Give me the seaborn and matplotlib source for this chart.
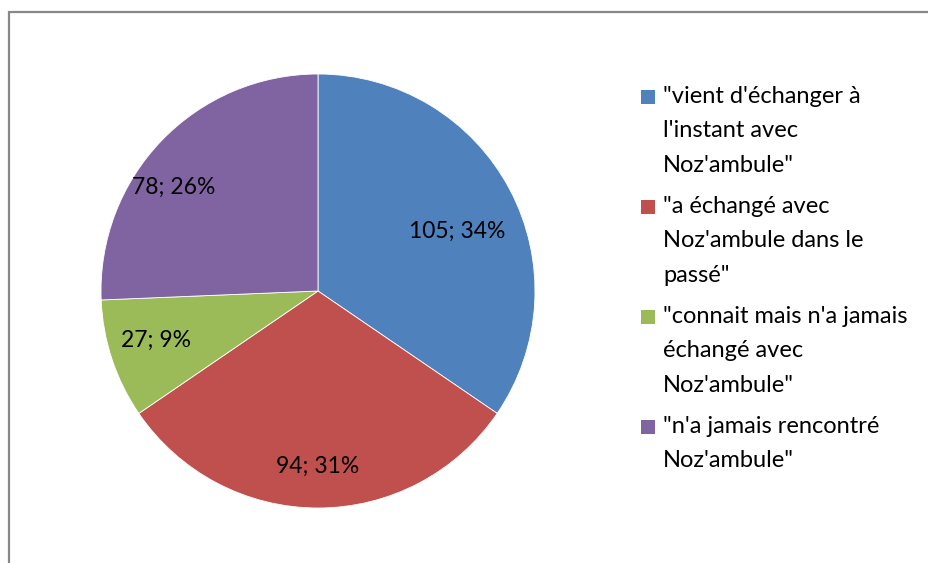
import matplotlib
matplotlib.use("Agg")
import matplotlib.pyplot as plt
import seaborn as sns
import numpy as np
from matplotlib.patches import Rectangle

# Data
categories = [
    '"vient d\'échanger à\nl\'instant avec\nNoz\'ambule"',
    '"a échangé avec\nNoz\'ambule dans le\npassé"',
    '"connait mais n\'a jamais\néchangé avec\nNoz\'ambule"',
    '"n\'a jamais rencontré\nNoz\'ambule"',
]
counts = [105, 94, 27, 78]
percents = [34, 31, 9, 26]

colors = ["#4F81BD", "#C0504D", "#9BBB59", "#8064A2"]
# label placement (fraction of radius, angular nudge in degrees)
label_radius = [0.70, 0.81, 0.78, 0.82]
label_nudge = [-4.5, 0, -1.5, 8]

sns.set_theme(style="white")
plt.rcParams["font.family"] = ["Lato", "DejaVu Sans"]

W, H = 929, 563
fig = plt.figure(figsize=(W / 100, H / 100), dpi=100)
fig.patch.set_facecolor("white")

# outer chart frame (only left and top visible in the crop)
fig.patches.append(Rectangle((9 / W, -0.2), 2.0, 1.2 - 12 / H,
                             transform=fig.transFigure, fill=False,
                             edgecolor="#888888", linewidth=1.6))

ax = fig.add_axes([101 / W, 1 - 508 / H, 434 / W, 434 / H])
wedges, _ = ax.pie(counts, colors=colors, startangle=90, counterclock=False,
                   radius=1.0, wedgeprops=dict(edgecolor="white", linewidth=0.6))
ax.set_xlim(-1, 1)
ax.set_ylim(-1, 1)
ax.set_aspect("equal")
ax.axis("off")

for w, n, p, r, d in zip(wedges, counts, percents, label_radius, label_nudge):
    mid = np.deg2rad((w.theta1 + w.theta2) / 2 + d)
    ax.text(r * np.cos(mid), r * np.sin(mid), f"{n}; {p}%",
            ha="center", va="center", fontsize=16.5, color="black")

# legend drawn by hand so the square sits on the first line of each entry
line_px = 34
y = 97  # centre of the first legend line, in pixels from the top
for label, c in zip(categories, colors):
    nlines = label.count("\n") + 1
    fig.patches.append(Rectangle((641 / W, 1 - (y + 7) / H), 14 / W, 14 / H,
                                 transform=fig.transFigure, facecolor=c,
                                 edgecolor="none"))
    fig.text(663 / W, 1 - (y - 11) / H, label, ha="left", va="top",
             fontsize=17, linespacing=1.78, color="black")
    y += nlines * line_px + 8

fig.savefig("out.png", dpi=100)
